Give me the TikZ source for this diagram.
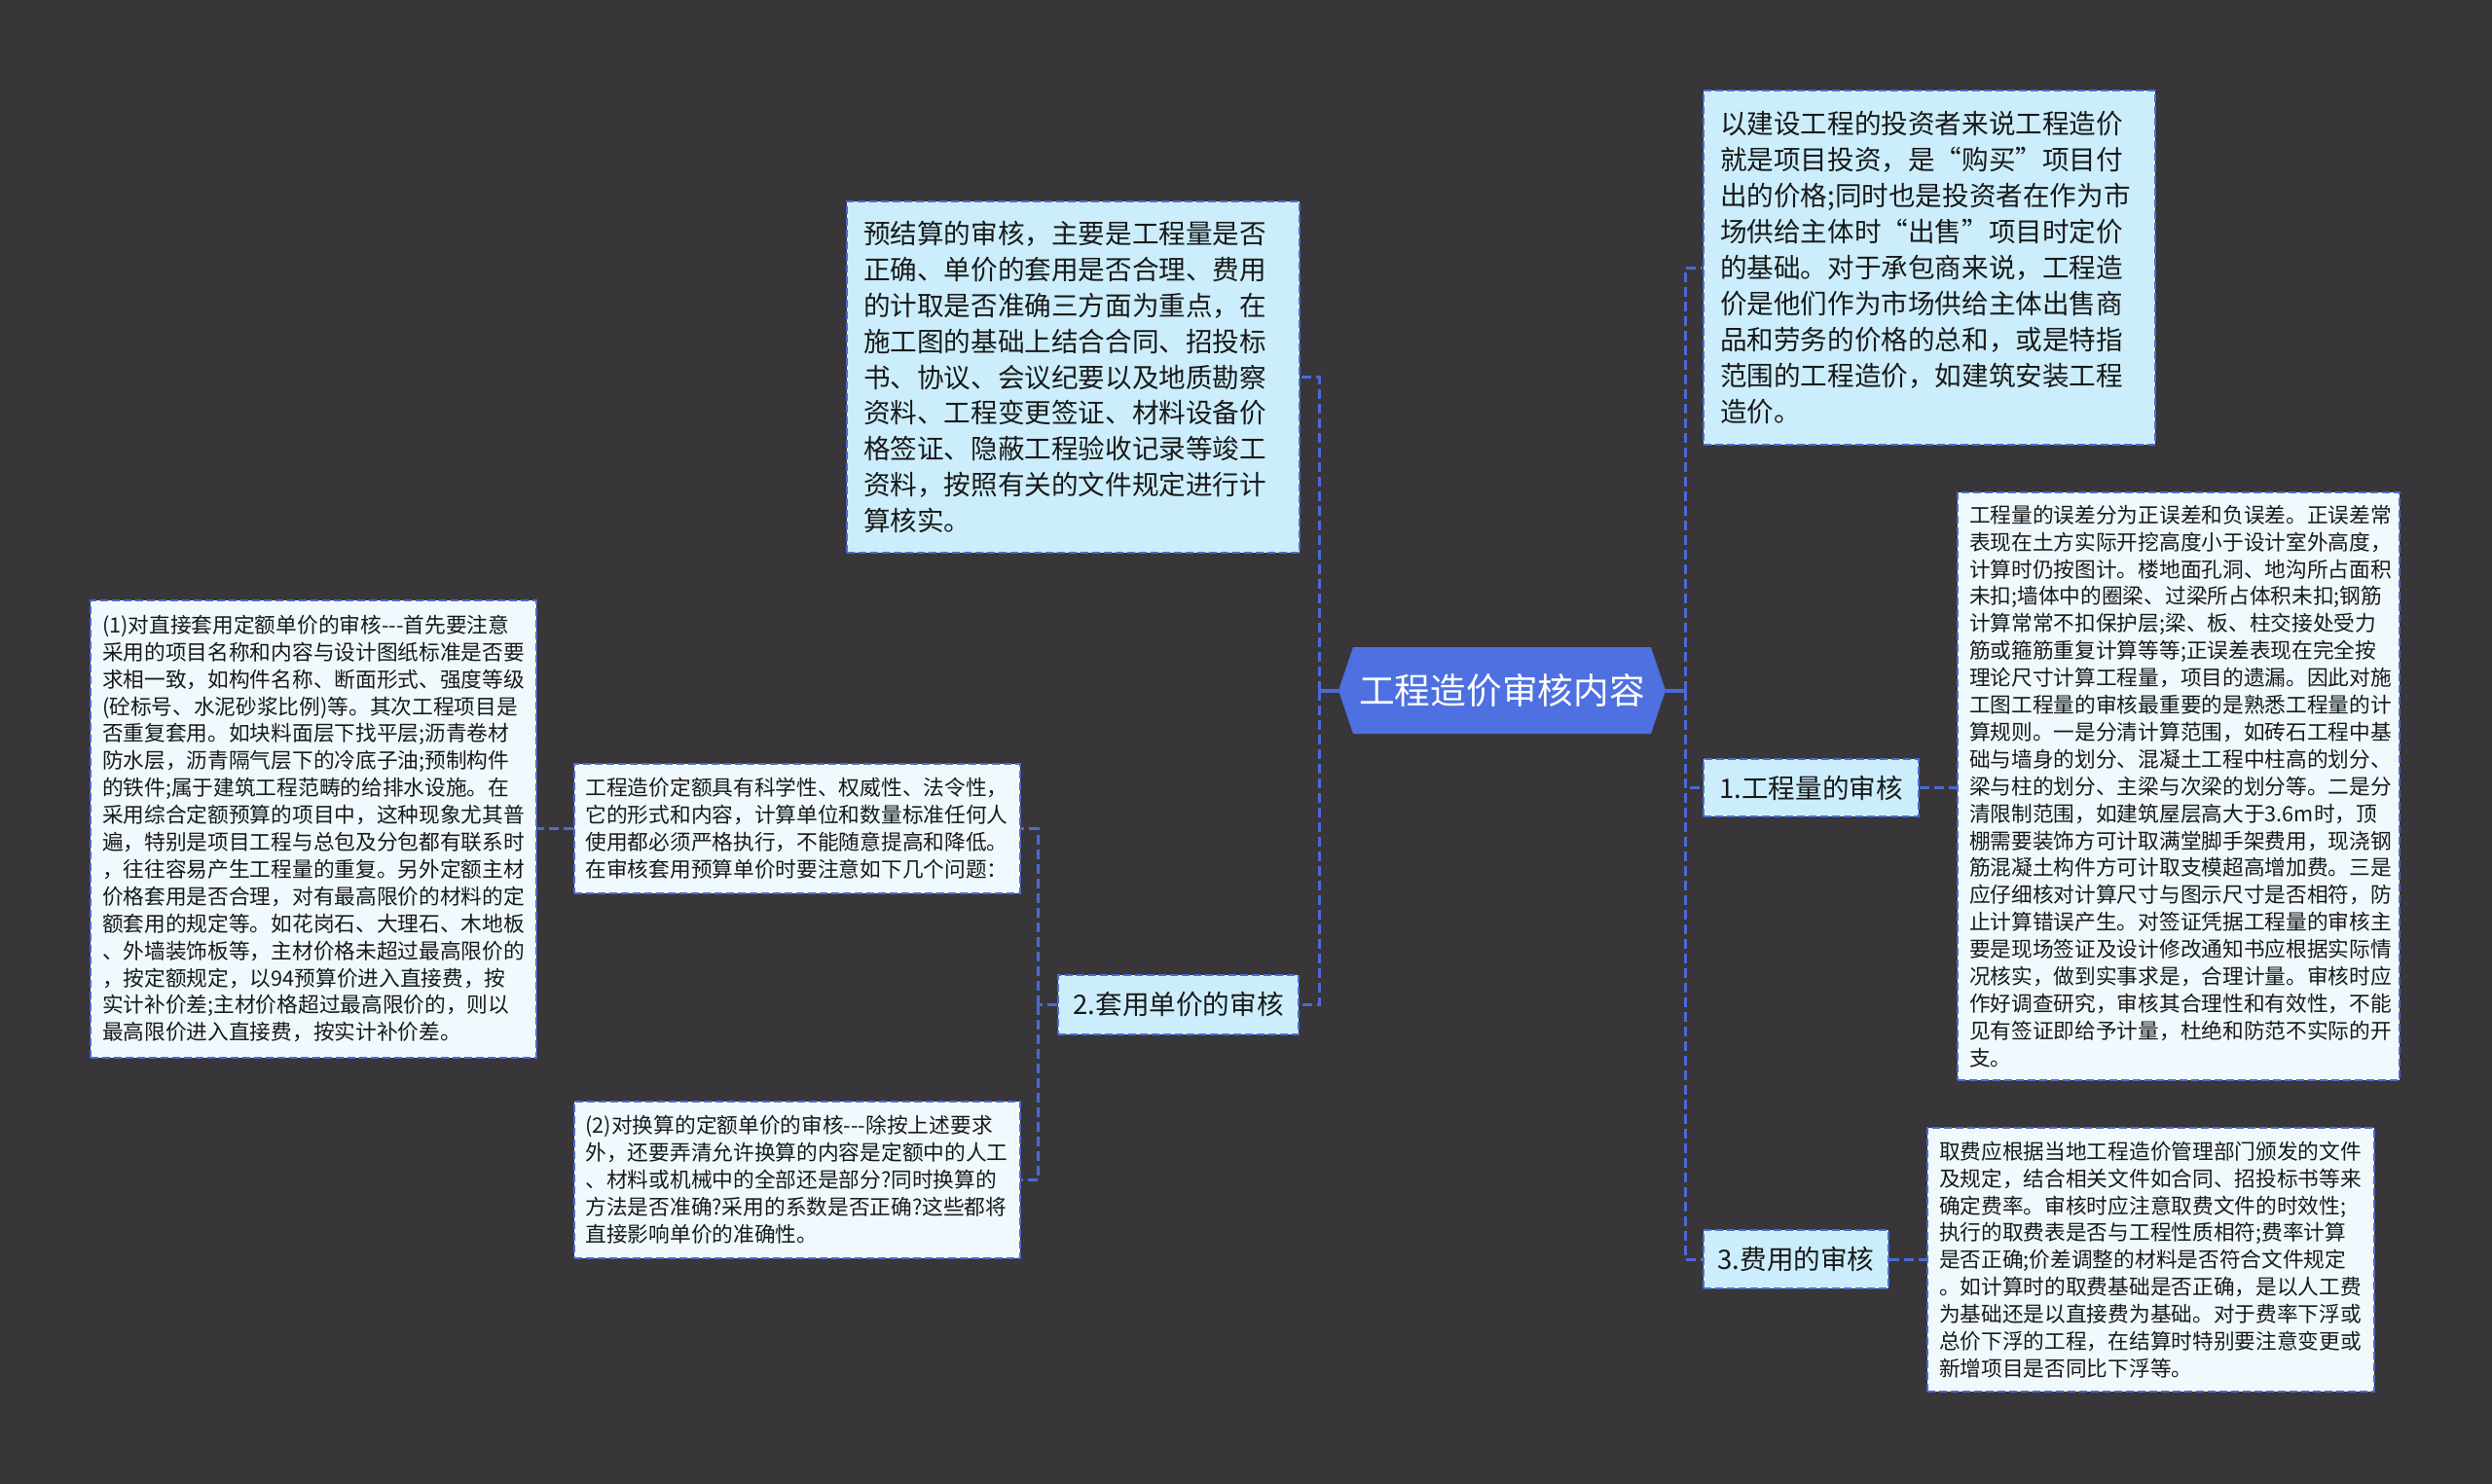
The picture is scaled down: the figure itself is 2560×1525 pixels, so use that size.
\documentclass[tikz,border=0pt]{standalone}
\usepackage{fontspec}
\setmainfont{Noto Sans CJK SC}
\definecolor{bgc}{RGB}{56,54,57}
\definecolor{rootfill}{RGB}{78,112,224}
\definecolor{linec}{RGB}{76,106,212}
\definecolor{lvone}{RGB}{204,238,252}
\definecolor{leaf}{RGB}{240,250,254}
\definecolor{txt}{RGB}{25,25,25}
\begin{document}
\begin{tikzpicture}[x=1pt,y=-1pt,
  conn/.style={draw=linec, line width=3pt, dash pattern=on 10pt off 5pt},
  stub/.style={draw=linec, line width=4pt},
  boxbase/.style={draw=linec, line width=2pt, dash pattern=on 8pt off 4pt, text=txt, inner ysep=0pt, anchor=center},
  lvbox/.style={boxbase, fill=lvone},
  leafbox/.style={boxbase, fill=leaf},
  bigtext/.style={font=\fontsize{27.6}{36.9}\selectfont, align=left, inner xsep=17pt},
  smalltext/.style={font=\fontsize{21.7}{27.9}\selectfont, align=left, inner xsep=12pt},
  labeltext/.style={font=\fontsize{27.6}{33}\selectfont, inner xsep=0pt},
]
\fill[bgc] (0,0) rectangle (2560,1525);
\useasboundingbox (0,0) rectangle (2560,1525);

% root hexagon
\coordinate (rootc) at (1543,709.5);
\fill[rootfill] ([xshift=-168pt]rootc) -- ([xshift=-153pt,yshift=44.5pt]rootc)
  -- ([xshift=153pt,yshift=44.5pt]rootc) -- ([xshift=168pt]rootc)
  -- ([xshift=153pt,yshift=-44.5pt]rootc) -- ([xshift=-153pt,yshift=-44.5pt]rootc) -- cycle;
\node[font=\fontsize{36.7}{44}\selectfont, text=white, minimum width=336pt, minimum height=89pt, inner sep=0pt] (root) at (rootc) {工程造价审核内容};

% level one
\node[lvbox, bigtext, text width=431pt, minimum height=361pt] (pre) at (1102.5,387.5) {预结算的审核，主要是工程量是否\\正确、单价的套用是否合理、费用\\的计取是否准确三方面为重点，在\\施工图的基础上结合合同、招投标\\书、协议、会议纪要以及地质勘察\\资料、工程变更签证、材料设备价\\格签证、隐蔽工程验收记录等竣工\\资料，按照有关的文件规定进行计\\算核实。};

\node[lvbox, bigtext, text width=430pt, minimum height=364pt] (inv) at (1982,275) {以建设工程的投资者来说工程造价\\就是项目投资，是“购买”项目付\\出的价格;同时也是投资者在作为市\\场供给主体时“出售”项目时定价\\的基础。对于承包商来说，工程造\\价是他们作为市场供给主体出售商\\品和劳务的价格的总和，或是特指\\范围的工程造价，如建筑安装工程\\造价。};

\node[lvbox, labeltext, minimum width=221pt, minimum height=59pt] (q1) at (1860.5,809.5) {1.工程量的审核};
\node[lvbox, labeltext, minimum width=247pt, minimum height=61pt] (q2) at (1210.5,1032.5) {2.套用单价的审核};
\node[lvbox, labeltext, minimum width=190pt, minimum height=60pt] (q3) at (1845,1294) {3.费用的审核};

% leaves
\node[leafbox, smalltext, text width=430pt, minimum height=604pt] (q1d) at (2238,808) {工程量的误差分为正误差和负误差。正误差常\\表现在土方实际开挖高度小于设计室外高度，\\计算时仍按图计。楼地面孔洞、地沟所占面积\\未扣;墙体中的圈梁、过梁所占体积未扣;钢筋\\计算常常不扣保护层;梁、板、柱交接处受力\\筋或箍筋重复计算等等;正误差表现在完全按\\理论尺寸计算工程量，项目的遗漏。因此对施\\工图工程量的审核最重要的是熟悉工程量的计\\算规则。一是分清计算范围，如砖石工程中基\\础与墙身的划分、混凝土工程中柱高的划分、\\梁与柱的划分、主梁与次梁的划分等。二是分\\清限制范围，如建筑屋层高大于3.6m时，顶\\棚需要装饰方可计取满堂脚手架费用，现浇钢\\筋混凝土构件方可计取支模超高增加费。三是\\应仔细核对计算尺寸与图示尺寸是否相符，防\\止计算错误产生。对签证凭据工程量的审核主\\要是现场签证及设计修改通知书应根据实际情\\况核实，做到实事求是，合理计量。审核时应\\作好调查研究，审核其合理性和有效性，不能\\见有签证即给予计量，杜绝和防范不实际的开\\支。};

\node[leafbox, smalltext, text width=435pt, minimum height=271pt] (q3d) at (2209.5,1294.5) {取费应根据当地工程造价管理部门颁发的文件\\及规定，结合相关文件如合同、招投标书等来\\确定费率。审核时应注意取费文件的时效性;\\执行的取费表是否与工程性质相符;费率计算\\是否正确;价差调整的材料是否符合文件规定\\。如计算时的取费基础是否正确，是以人工费\\为基础还是以直接费为基础。对于费率下浮或\\总价下浮的工程，在结算时特别要注意变更或\\新增项目是否同比下浮等。};

\node[leafbox, smalltext, text width=434pt, minimum height=133pt] (q2a) at (818.5,851.5) {工程造价定额具有科学性、权威性、法令性，\\它的形式和内容，计算单位和数量标准任何人\\使用都必须严格执行，不能随意提高和降低。\\在审核套用预算单价时要注意如下几个问题：};

\node[leafbox, smalltext, text width=434pt, minimum height=161pt] (q2b) at (818.5,1212) {(2)对换算的定额单价的审核-{}-{}-除按上述要求\\外，还要弄清允许换算的内容是定额中的人工\\、材料或机械中的全部还是部分?同时换算的\\方法是否准确?采用的系数是否正确?这些都将\\直接影响单价的准确性。};

\node[leafbox, smalltext, text width=434pt, minimum height=470pt] (q2a1) at (322,851.5) {(1)对直接套用定额单价的审核-{}-{}-首先要注意\\采用的项目名称和内容与设计图纸标准是否要\\求相一致，如构件名称、断面形式、强度等级\\(砼标号、水泥砂浆比例)等。其次工程项目是\\否重复套用。如块料面层下找平层;沥青卷材\\防水层，沥青隔气层下的冷底子油;预制构件\\的铁件;属于建筑工程范畴的给排水设施。在\\采用综合定额预算的项目中，这种现象尤其普\\遍，特别是项目工程与总包及分包都有联系时\\，往往容易产生工程量的重复。另外定额主材\\价格套用是否合理，对有最高限价的材料的定\\额套用的规定等。如花岗石、大理石、木地板\\、外墙装饰板等，主材价格未超过最高限价的\\，按定额规定，以94预算价进入直接费，按\\实计补价差;主材价格超过最高限价的，则以\\最高限价进入直接费，按实计补价差。};

% connectors
\coordinate (tl) at (1355,709.5);
\coordinate (tr) at (1731,709.5);
\coordinate (t2) at (1066,1032.5);
\draw[stub] (root.west) -- (tl);
\draw[stub] (root.east) -- (tr);
\draw[conn] (tl) |- (pre.east);
\draw[conn] (tl) |- (q2.east);
\draw[conn] (tr) |- (inv.west);
\draw[conn] (tr) |- (q1.west);
\draw[conn] (tr) |- (q3.west);
\draw[conn] (q1.east) -- (q1.east -| q1d.west);
\draw[conn] (q3.east) -- (q3.east -| q3d.west);
\draw[conn] (q2.west) -- (t2);
\draw[conn] (t2) |- (q2a.east);
\draw[conn] (t2) |- (q2b.east);
\draw[conn] (q2a.west) -- (q2a.west -| q2a1.east);
\end{tikzpicture}
\end{document}
